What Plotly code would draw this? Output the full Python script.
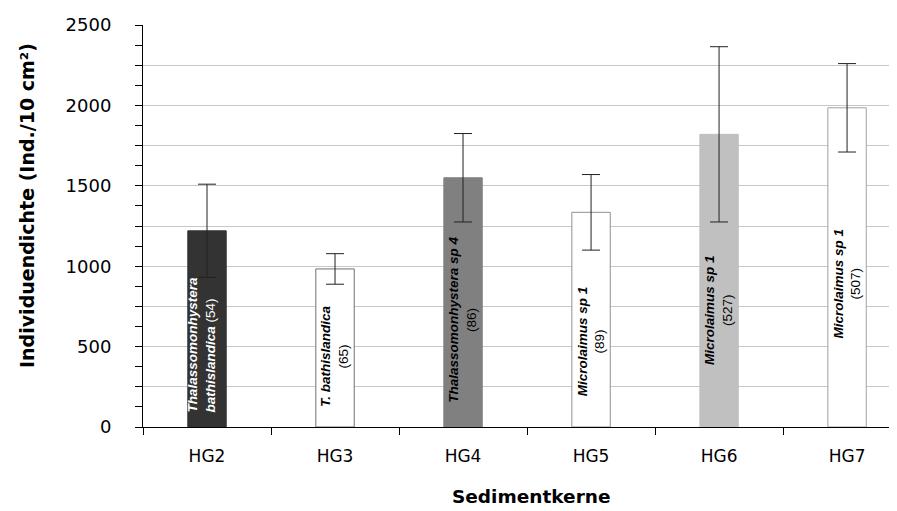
import plotly.graph_objects as go

categories = ["HG2", "HG3", "HG4", "HG5", "HG6", "HG7"]
density = [1220, 983, 1550, 1335, 1820, 1985]
error = [290, 95, 275, 235, 545, 275]
species = ["Thalassomonhystera", "T. bathislandica", "Thalassomonhystera sp 4",
           "Microlaimus sp 1", "Microlaimus sp 1", "Microlaimus sp 1"]
species2 = ["bathislandica", "", "", "", "", ""]
counts = [54, 65, 86, 89, 527, 507]
y_ticks = list(range(0, 2501, 250))
y_ticktext = [str(v) if v % 500 == 0 else "" for v in y_ticks]

# styles
bar_colors = ["#333333", "#ffffff", "#808080", "#ffffff", "#c0c0c0", "#ffffff"]
line_colors = ["#333333", "#707070", "#808080", "#909090", "#c0c0c0", "#a0a0a0"]
text_colors = ["white", "black", "black", "black", "black", "black"]
label_frac = [0.42, 0.45, 0.43, 0.40, 0.40, 0.45]
label_xshift = [-5, 0, 0, 0, 0, 0]

fig = go.Figure()
fig.add_trace(go.Bar(
    x=categories, y=density, width=0.3,
    marker=dict(color=bar_colors, line=dict(color=line_colors, width=1)),
    error_y=dict(type="data", array=error, visible=True, color="#222222",
                 thickness=1, width=9),
    showlegend=False,
))

annotations = []
for i, cat in enumerate(categories):
    if species2[i]:
        txt = f"<b><i>{species[i]}</i></b><br><b><i>{species2[i]}</i></b> ({counts[i]})"
        align = "left"
    else:
        txt = f"<b><i>{species[i]}</i></b><br>({counts[i]})"
        align = "center"
    annotations.append(dict(
        x=cat, y=density[i] * label_frac[i], xref="x", yref="y",
        xshift=label_xshift[i],
        text=txt, textangle=-90, showarrow=False, align=align,
        font=dict(family="Liberation Sans, Arial, sans-serif", size=13.5,
                  color=text_colors[i]),
    ))

annotations.append(dict(
    x=0.515, y=-0.174, xref="paper", yref="paper",
    text="<b>Sedimentkerne</b>", showarrow=False,
    font=dict(family="DejaVu Sans, sans-serif", size=18.5, color="black"),
    yanchor="middle",
))
annotations.append(dict(
    x=-0.154, y=0.552, xref="paper", yref="paper",
    text="<b>Individuendichte (Ind./10 cm²)</b>", showarrow=False,
    textangle=-90,
    font=dict(family="DejaVu Sans, sans-serif", size=19, color="black"),
    xanchor="center", yanchor="middle",
))

# page body has an 8px default margin, so the figure is sized/offset to compensate
fig.update_layout(
    width=889, height=503,
    margin=dict(l=135, r=0, t=17, b=84),
    paper_bgcolor="white", plot_bgcolor="white",
    bargap=0.7,
    annotations=annotations,
    font=dict(family="DejaVu Sans, sans-serif", size=16, color="black"),
    xaxis=dict(
        range=[-0.5, 5.39], showline=True, linecolor="black", linewidth=1,
        ticks="outside", ticklen=7, tickcolor="black", tickson="boundaries",
        showgrid=False, tickfont=dict(size=17), ticklabelstandoff=14,
        automargin=False,
    ),
    yaxis=dict(
        range=[0, 2500], showline=True, linecolor="black", linewidth=1,
        tickvals=y_ticks, ticktext=y_ticktext,
        ticks="outside", ticklen=7, tickcolor="black",
        showgrid=True, gridcolor="#c8c8c8", gridwidth=1,
        zeroline=False, tickfont=dict(size=18), ticklabelstandoff=20,
        automargin=False,
        minor=dict(dtick=125, ticks="outside", ticklen=7, tickcolor="black",
                   showgrid=False),
    ),
)

fig.write_html("out.html")
